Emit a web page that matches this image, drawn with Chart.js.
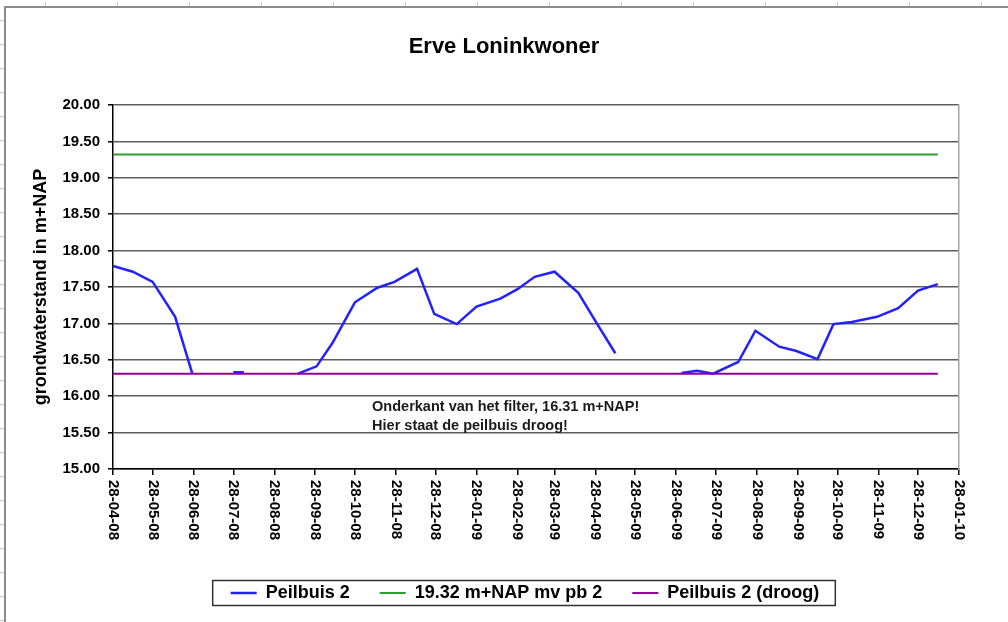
<!DOCTYPE html>
<html lang="nl">
<head>
<meta charset="utf-8">
<title>Erve Loninkwoner</title>
<script src="https://cdn.jsdelivr.net/npm/chart.js@4.4.1/dist/chart.umd.min.js"></script>
<style>
  html, body { margin: 0; padding: 0; background: #fff; }
  canvas { display: block; }
</style>
</head>
<body>
<canvas id="chart" width="1008" height="622"></canvas>
<script>
// Peilbuis 2 readings (m+NAP); null = buis droog, no reading drawn
const peilDates = [
  '2008-04-28', '2008-05-13', '2008-05-28', '2008-06-14', '2008-06-27',
  '2008-07-12', '2008-07-28', '2008-08-05', '2008-08-20', '2008-09-03',
  '2008-09-15', '2008-09-29', '2008-10-11', '2008-10-28', '2008-11-14',
  '2008-11-27', '2008-12-14', '2008-12-27', '2009-01-13', '2009-01-28',
  '2009-02-15', '2009-02-28', '2009-03-13', '2009-03-28', '2009-04-15',
  '2009-04-29', '2009-05-13', '2009-05-27', '2009-06-10', '2009-06-21',
  '2009-07-02', '2009-07-14', '2009-07-26', '2009-08-14', '2009-08-27',
  '2009-09-14', '2009-09-27', '2009-10-13', '2009-10-25', '2009-11-08',
  '2009-11-27', '2009-12-13', '2009-12-28', '2010-01-12',
];
const peilValues = [
  17.79, 17.71, 17.57, 17.09, 16.31,
  null, 16.33, 16.33, null, null,
  16.31, 16.41, 16.73, 17.29, 17.49,
  17.57, 17.75, 17.13, 16.99, 17.23,
  17.34, 17.47, 17.64, 17.71, 17.42,
  17.00, 16.59, null, null, null,
  16.32, 16.35, 16.31, 16.47, 16.90,
  16.68, 16.62, 16.51, 16.99, 17.02,
  17.09, 17.21, 17.45, 17.54,
];

// reference levels: maaiveld and onderkant filter
const refDates = ['2008-04-28', '2010-01-12'];
const maaiveldValues = [19.32, 19.32];
const filterValues = [16.31, 16.31];

const seriesLabels = ['Peilbuis 2', '19.32 m+NAP mv pb 2', 'Peilbuis 2 (droog)'];

// axis ticks
const xTickDates = [
  '2008-04-28', '2008-05-28', '2008-06-28', '2008-07-28', '2008-08-28',
  '2008-09-28', '2008-10-28', '2008-11-28', '2008-12-28', '2009-01-28',
  '2009-02-28', '2009-03-28', '2009-04-28', '2009-05-28', '2009-06-28',
  '2009-07-28', '2009-08-28', '2009-09-28', '2009-10-28', '2009-11-28',
  '2009-12-28', '2010-01-28',
];
const yTicks = [15, 15.5, 16, 16.5, 17, 17.5, 18, 18.5, 19, 19.5, 20];

const noteLines = ['Onderkant van het filter, 16.31 m+NAP!', 'Hier staat de peilbuis droog!'];

const FONT = '"Liberation Sans", Arial, sans-serif';
const DAY = 86400000;
const START = Date.UTC(2008, 3, 28);

/** Days since the first tick for an ISO date string. */
function dayOf(iso) {
  const [y, m, d] = iso.split('-').map(Number);
  return (Date.UTC(y, m - 1, d) - START) / DAY;
}

/** dd-mm-yy label for a day offset. */
function formatDay(day) {
  const d = new Date(START + day * DAY);
  const pad = (n) => String(n).padStart(2, '0');
  return `${pad(d.getUTCDate())}-${pad(d.getUTCMonth() + 1)}-${pad(d.getUTCFullYear() % 100)}`;
}

const toPoints = (dates, values) => dates.map((d, i) => ({ x: dayOf(d), y: values[i] }));

/** Page edge lines with the little ruler marks. */
const pageFrame = {
  id: 'pageFrame',
  beforeDraw(chart) {
    const { ctx, width, height } = chart;
    ctx.save();
    ctx.strokeStyle = '#8c8c8c';
    ctx.lineWidth = 2;
    ctx.beginPath();
    ctx.moveTo(5, height);
    ctx.lineTo(5, 7);
    ctx.lineTo(width, 7);
    ctx.stroke();
    ctx.strokeStyle = '#c8c8c8';
    ctx.lineWidth = 1;
    ctx.beginPath();
    for (let x = 45; x < width; x += 72) {
      ctx.moveTo(x + 0.5, 2);
      ctx.lineTo(x + 0.5, 6);
    }
    for (let y = 20; y < height; y += 24) {
      ctx.moveTo(0, y + 0.5);
      ctx.lineTo(4, y + 0.5);
    }
    ctx.stroke();
    ctx.restore();
  },
};

/** Nudge the legend row a little left of the plot centre. */
const legendShift = {
  id: 'legendShift',
  afterLayout(chart) {
    const lg = chart.legend;
    if (!lg) return;
    lg.left -= 11;
    lg.right -= 11;
  },
};

/** Date labels under the x axis, turned a quarter clockwise. */
const dateLabels = {
  id: 'dateLabels',
  afterDraw(chart) {
    const { ctx } = chart;
    const xs = chart.scales.x;
    ctx.save();
    ctx.fillStyle = '#000';
    ctx.font = `bold 15px ${FONT}`;
    ctx.textAlign = 'left';
    ctx.textBaseline = 'middle';
    xs.ticks.forEach((t) => {
      ctx.save();
      ctx.translate(xs.getPixelForValue(t.value), xs.top + 11);
      ctx.rotate(Math.PI / 2);
      ctx.fillText(formatDay(t.value), 0, 0);
      ctx.restore();
    });
    ctx.restore();
  },
};

/** Note about the dry tube, placed under the filter level. */
const filterNote = {
  id: 'filterNote',
  afterDatasetsDraw(chart) {
    const { ctx, scales: { x, y } } = chart;
    const left = x.getPixelForValue(dayOf('2008-11-10'));
    const base = y.getPixelForValue(filterValues[0]);
    ctx.save();
    ctx.fillStyle = '#1a1a1a';
    ctx.font = `bold 14.5px ${FONT}`;
    ctx.textAlign = 'left';
    ctx.textBaseline = 'middle';
    noteLines.forEach((line, i) => ctx.fillText(line, left, base + 33 + i * 19));
    ctx.restore();
  },
};

/** Box round the legend entries. */
const legendBox = {
  id: 'legendBox',
  afterDraw(chart) {
    const boxes = chart.legend && chart.legend.legendHitBoxes;
    if (!boxes || !boxes.length) return;
    const first = boxes[0];
    const last = boxes[boxes.length - 1];
    const cy = first.top + first.height / 2;
    const { ctx } = chart;
    ctx.save();
    ctx.strokeStyle = '#333';
    ctx.lineWidth = 1.5;
    ctx.strokeRect(first.left - 18, cy - 12.5, last.left + last.width + 16 - (first.left - 18), 25);
    ctx.restore();
  },
};

/* global Chart */
new Chart(document.getElementById('chart'), {
  type: 'line',
  data: {
    datasets: [
      {
        label: seriesLabels[0],
        data: toPoints(peilDates, peilValues),
        borderColor: '#2222ff',
        borderWidth: 2.5,
        order: 1,
      },
      {
        label: seriesLabels[1],
        data: toPoints(refDates, maaiveldValues),
        borderColor: '#2e9e2e',
        borderWidth: 2,
      },
      {
        label: seriesLabels[2],
        data: toPoints(refDates, filterValues),
        borderColor: '#960096',
        borderWidth: 2,
      },
    ],
  },
  options: {
    responsive: false,
    animation: false,
    events: [],
    spanGaps: false,
    elements: {
      line: { tension: 0, fill: false },
      point: { radius: 0, hoverRadius: 0 },
    },
    layout: { padding: { top: 0, left: 0, right: 0, bottom: 10 } },
    scales: {
      x: {
        type: 'linear',
        min: 0,
        max: dayOf(xTickDates[xTickDates.length - 1]),
        afterBuildTicks: (s) => { s.ticks = xTickDates.map((d) => ({ value: dayOf(d) })); },
        afterFit: (s) => { s.height = 85; },
        ticks: { display: false },
        grid: { drawOnChartArea: false, drawTicks: true, tickLength: 6, color: '#000', lineWidth: 1.5 },
        border: { color: '#000', width: 1.5 },
      },
      y: {
        min: 15,
        max: 20,
        afterBuildTicks: (s) => { s.ticks = yTicks.map((v) => ({ value: v })); },
        afterFit: (s) => { s.width = 113; },
        ticks: {
          callback: (v) => Number(v).toFixed(2),
          color: '#000',
          padding: 8,
          font: { family: FONT, size: 15, weight: 'bold' },
        },
        grid: { color: '#5e5e5e', lineWidth: 1.6, tickLength: 5, tickColor: '#000', tickWidth: 1.5 },
        border: { color: '#000', width: 1.5 },
        title: {
          display: true,
          text: 'grondwaterstand in m+NAP',
          color: '#000',
          padding: { top: 30, bottom: 0 },
          font: { family: FONT, size: 18, weight: 'bold' },
        },
      },
      yRight: {
        position: 'right',
        min: 15,
        max: 20,
        afterFit: (s) => { s.width = 49; },
        ticks: { display: false },
        grid: { drawOnChartArea: false, drawTicks: false },
        border: { color: '#a6a6a6', width: 1.5 },
      },
    },
    plugins: {
      title: {
        display: true,
        text: 'Erve Loninkwoner',
        color: '#000',
        padding: { top: 34, bottom: 44.6 },
        font: { family: FONT, size: 22, weight: 'bold' },
      },
      legend: {
        position: 'bottom',
        fullSize: false,
        labels: {
          usePointStyle: true,
          pointStyle: 'line',
          pointStyleWidth: 26,
          padding: 30,
          color: '#000',
          font: { family: FONT, size: 18, weight: 'bold' },
          sort: (a, b) => a.datasetIndex - b.datasetIndex,
        },
      },
      tooltip: { enabled: false },
    },
  },
  plugins: [pageFrame, legendShift, dateLabels, filterNote, legendBox],
});
</script>
</body>
</html>
